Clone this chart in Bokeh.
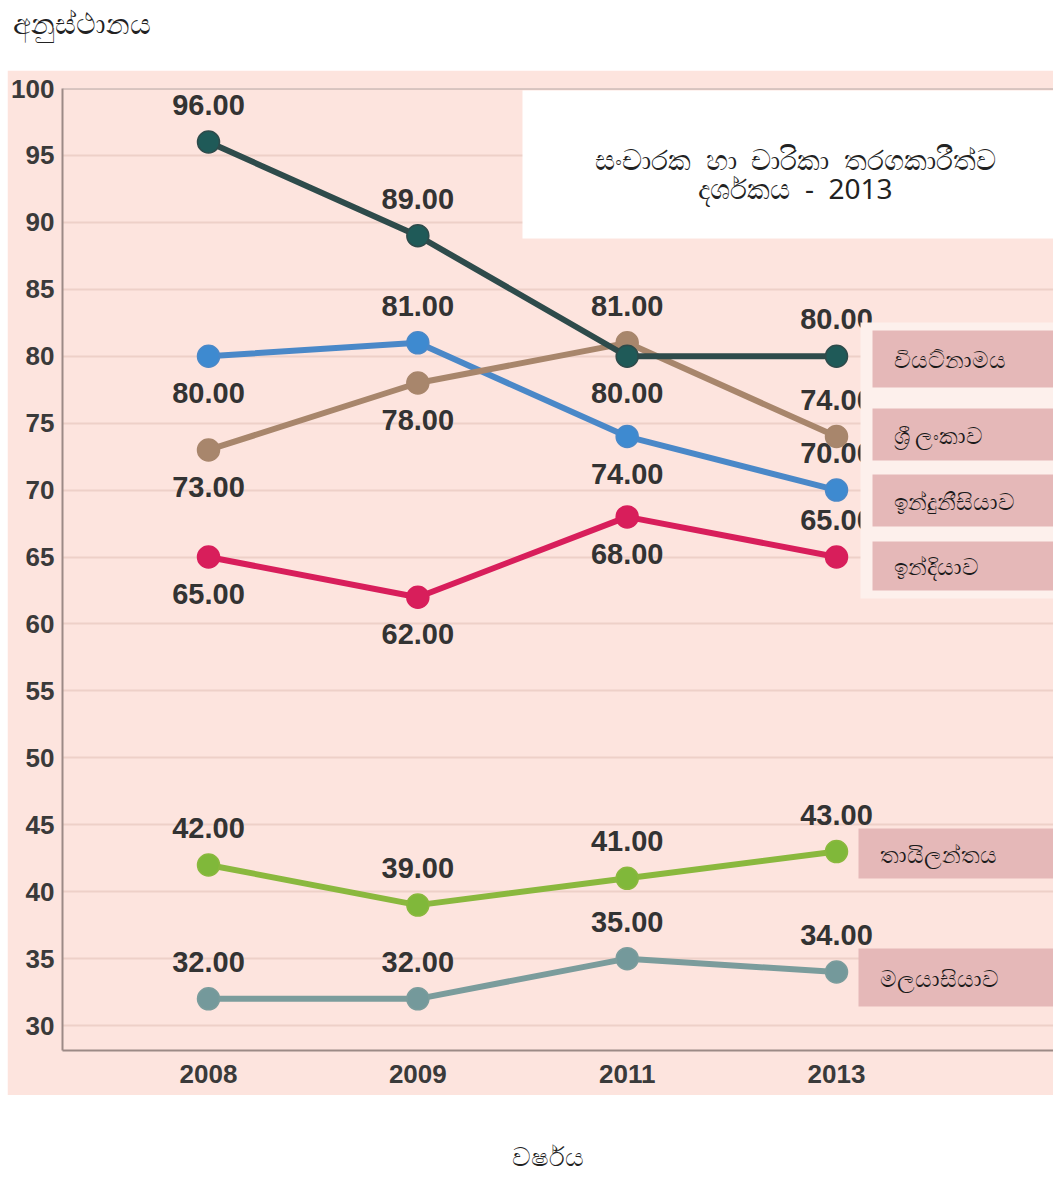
from bokeh.plotting import figure
from bokeh.layouts import column, row
from bokeh.models import (ColumnDataSource, FixedTicker, BoxAnnotation, Label, Span, Range1d)
from bokeh.embed import file_html
from bokeh.resources import INLINE

# ---------------- data ----------------
YEARS = ["2008", "2009", "2011", "2013"]
VIETNAM = [96, 89, 80, 80]
SRI_LANKA = [73, 78, 81, 74]
INDONESIA = [80, 81, 74, 70]
INDIA = [65, 62, 68, 65]
THAILAND = [42, 39, 41, 43]
MALAYSIA = [32, 32, 35, 34]
NAMES = ["වියට්නාමය", "ශ්‍රී ලංකාව", "ඉන්දුනීසියාව", "ඉන්දියාව", "තායිලන්තය", "මලයාසියාව"]
Y_TICKS = [30, 35, 40, 45, 50, 55, 60, 65, 70, 75, 80, 85, 90, 95, 100]
TITLE_LINES = ["සංචාරක\u00a0\u00a0හා\u00a0\u00a0චාරිකා\u00a0\u00a0තරගකාරීත්ව", "දර්ශකය\u00a0\u00a0-\u00a0\u00a02013"]
Y_TITLE = "අනුස්ථානය"
X_TITLE = "වර්ෂය"

# ---------------- styles ----------------
SERIES = [VIETNAM, SRI_LANKA, INDONESIA, INDIA, THAILAND, MALAYSIA]
LINE_COLORS = ["#2e4b4b", "#a8866c", "#4a88c8", "#d81e5b", "#8ab83e", "#7b9c9c"]
MARK_COLORS = ["#1f5a58", "#a8866c", "#3e8ad0", "#d81e5b", "#80b83a", "#74999b"]
# +1 label above the point, -1 below
SIDES = [[1, 1, -1, 1], [-1, -1, 1, 1], [-1, 1, -1, 1], [-1, -1, -1, 1], [1, 1, 1, 1], [1, 1, 1, 1]]
DRAW_ORDER = [5, 4, 3, 2, 1, 0]

PINK = "#fde4de"
NUM_FONT = "Liberation Sans"
SIN_FONT = "Noto Sans"
W = 1053
LEFT_W = 7                            # white margin left of the pink panel
TOP_H, MAIN_H, BOT_H = 70, 1025, 82
MAIN_TOP = TOP_H                      # page y of main figure top
FL, FT, FB = 62, 88, 1050             # frame left / top / bottom in page pixels


def strip(width, height):
    f = figure(width=width, height=height, output_backend="svg", toolbar_location=None,
               x_axis_location=None, y_axis_location=None, min_border=0,
               x_range=Range1d(0, 1), y_range=Range1d(0, 1), frame_align=False)
    f.background_fill_color = "white"
    f.border_fill_color = "white"
    f.outline_line_color = None
    f.grid.grid_line_color = None
    return f


# ---------------- top strip (y title) ----------------
top = strip(W, TOP_H)
top.add_layout(Label(x=12, y=TOP_H - 22, x_units="screen", y_units="screen", text=Y_TITLE,
                     text_align="left", text_baseline="middle", text_font=SIN_FONT,
                     text_font_size="29px", text_color="#222222"))

# ---------------- main chart ----------------
p = figure(width=W - LEFT_W, height=MAIN_H, output_backend="svg", toolbar_location=None,
           x_range=Range1d(-0.6975, 4.0366), y_range=Range1d(28.14, 100),
           min_border_left=FL - LEFT_W, min_border_right=0, min_border_top=FT - MAIN_TOP,
           min_border_bottom=MAIN_TOP + MAIN_H - FB, frame_align=False)
p.background_fill_color = PINK
p.border_fill_color = PINK
p.outline_line_color = None

p.xgrid.grid_line_color = None
p.ygrid.ticker = FixedTicker(ticks=Y_TICKS)
p.ygrid.grid_line_color = "#eed0c8"
p.ygrid.grid_line_width = 2
p.yaxis.ticker = FixedTicker(ticks=Y_TICKS)
p.xaxis.ticker = FixedTicker(ticks=list(range(len(YEARS))))
p.xaxis.major_label_overrides = {i: y for i, y in enumerate(YEARS)}
for ax in (p.xaxis[0], p.yaxis[0]):
    ax.axis_line_color = "#9c8a86"
    ax.axis_line_width = 2
    ax.major_tick_line_color = None
    ax.minor_tick_line_color = None
    ax.major_tick_out = 0
    ax.major_tick_in = 0
    ax.major_label_text_font = NUM_FONT
    ax.major_label_text_font_style = "bold"
    ax.major_label_text_font_size = "26px"
    ax.major_label_text_color = "#3a3a3a"
p.yaxis.major_label_standoff = 8
p.xaxis.major_label_standoff = 14
p.add_layout(Span(location=100, dimension="width", line_color="#b4a29d", line_width=2))


def sx(px):
    return px - FL


def sy(py):
    return FB - py


def box(x0, y0, x1, y1, color):
    p.add_layout(BoxAnnotation(left=sx(x0), right=sx(x1), top=sy(y0), bottom=sy(y1),
                               left_units="screen", right_units="screen", top_units="screen",
                               bottom_units="screen", fill_color=color, fill_alpha=1.0,
                               line_color=None))


xs = list(range(len(YEARS)))
for i in DRAW_ORDER:
    vals = SERIES[i]
    src = ColumnDataSource(dict(x=xs, y=vals,
                                lab=[f"{v:.2f}" for v in vals],
                                off=[-37 * s for s in SIDES[i]]))
    p.line("x", "y", source=src, line_color=LINE_COLORS[i], line_width=6)
    p.scatter("x", "y", source=src, size=22, fill_color=MARK_COLORS[i],
              line_color=LINE_COLORS[i], line_width=1.5)
    p.text("x", "y", text="lab", source=src, y_offset="off", text_align="center",
           text_baseline="middle", text_font_size="29px", text_font_style="bold",
           text_color="#333333", text_font={"value": NUM_FONT})

# title box
box(522, 90, 1070, 238, "white")
for line, py in zip(TITLE_LINES, [158, 187]):
    p.add_layout(Label(x=sx(795), y=sy(py), x_units="screen", y_units="screen",
                       text=line, text_align="center", text_baseline="middle",
                       text_font=SIN_FONT, text_font_size="28px", text_color="#222222"))

# country name boxes
box(860, 322, 1070, 598, "#fdf0ec")
NAME_BOXES = [(872, 330, 387), (872, 408, 460), (872, 474, 526), (872, 541, 590),
              (858, 828, 878), (858, 948, 1006)]
for name, (bx, by0, by1) in zip(NAMES, NAME_BOXES):
    box(bx, by0, 1070, by1, "#e5b8b8")
    p.add_layout(Label(x=sx(bx + 21), y=sy((by0 + by1) / 2), x_units="screen", y_units="screen",
                       text=name, text_align="left", text_baseline="middle",
                       text_font=SIN_FONT, text_font_size="23px", text_color="#1a1a1a"))

# ---------------- bottom strip (x title) ----------------
bot = strip(W, BOT_H)
bot_top = MAIN_TOP + MAIN_H
bot.add_layout(Label(x=547, y=bot_top + BOT_H - 1155, x_units="screen", y_units="screen",
                     text=X_TITLE, text_align="center", text_baseline="middle",
                     text_font=SIN_FONT, text_font_size="26px", text_color="#222222"))

layout = column(top, row(strip(LEFT_W, MAIN_H), p, spacing=0), bot, spacing=0)
open("out.html", "w").write(file_html(layout, INLINE))
